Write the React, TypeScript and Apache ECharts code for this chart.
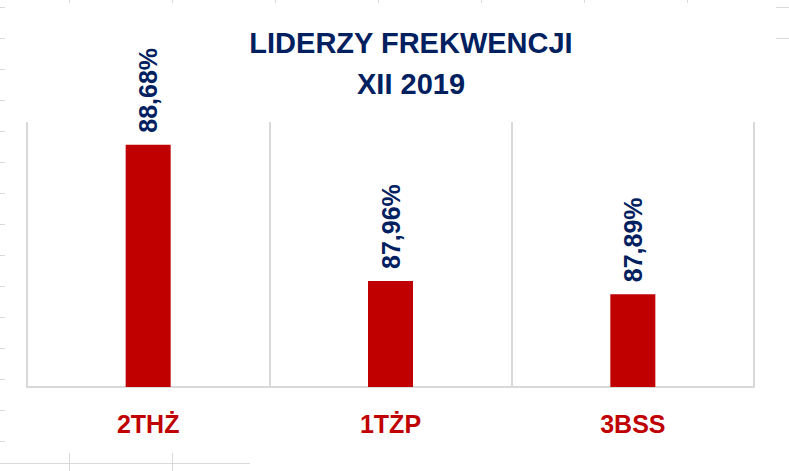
import React, { useEffect, useRef } from "react";
import * as echarts from "echarts";

const categories = ["2THŻ", "1TŻP", "3BSS"];
const values = [88.68, 87.96, 87.89];
const titleLines = ["LIDERZY FREKWENCJI", "XII 2019"];

const NAVY = "#002060";
const RED = "#C00000";
const GRID = "#d9d9d9";
const FONT = "'Liberation Sans', Arial, sans-serif";

function sheetLines(): any[] {
  const els: any[] = [];
  const ls = { stroke: GRID, lineWidth: 1 };
  for (let k = 0; k < 15; k++) {
    const y = 7.5 + 31 * k;
    els.push({ type: "line", shape: { x1: 0, y1: y, x2: 5, y2: y }, style: ls, silent: true });
  }
  for (let k = 0; k < 7; k++) {
    const x = 69.5 + 103 * k;
    els.push({ type: "line", shape: { x1: x, y1: 0, x2: x, y2: 3 }, style: ls, silent: true });
  }
  [7.5, 38.5].forEach((y) =>
    els.push({ type: "line", shape: { x1: 776, y1: y, x2: 789, y2: y }, style: ls, silent: true })
  );
  els.push({ type: "line", shape: { x1: 0, y1: 463.5, x2: 250, y2: 463.5 }, style: ls, silent: true });
  [69.5, 172.5].forEach((x) =>
    els.push({ type: "line", shape: { x1: x, y1: 453, x2: x, y2: 471 }, style: ls, silent: true })
  );
  return els;
}

export default function App() {
  const ref = useRef<HTMLDivElement>(null);
  useEffect(() => {
    if (!ref.current) return;
    const chart = echarts.init(ref.current, undefined, { renderer: "svg" });
    chart.setOption({
      animation: false,
      backgroundColor: "#ffffff",
      grid: { left: 27, right: 35, top: 122, bottom: 84, containLabel: false },
      xAxis: {
        type: "category",
        data: categories,
        boundaryGap: true,
        axisLine: { show: true, lineStyle: { color: GRID, width: 2 } },
        axisTick: { show: false },
        splitLine: { show: true, lineStyle: { color: GRID, width: 2 } },
        axisLabel: {
          color: RED,
          fontFamily: FONT,
          fontWeight: "bold",
          fontSize: 25,
          margin: 24,
        },
      },
      yAxis: {
        type: "value",
        min: 87.4,
        max: 88.8,
        show: false,
        splitLine: { show: false },
      },
      series: [
        {
          type: "bar",
          data: values,
          barWidth: 45,
          itemStyle: { color: RED },
          label: {
            show: true,
            position: "top",
            rotate: 90,
            align: "left",
            verticalAlign: "middle",
            distance: 12,
            color: NAVY,
            fontFamily: FONT,
            fontWeight: "bold",
            fontSize: 25,
            formatter: (p: any) => p.value.toFixed(2).replace(".", ",") + "%",
          },
        },
      ],
      graphic: [
        ...sheetLines(),
        {
          type: "text",
          x: 411,
          y: 43,
          style: {
            text: titleLines[0],
            fill: NAVY,
            font: `bold 29px ${FONT}`,
            textAlign: "center",
            textVerticalAlign: "middle",
          },
        },
        {
          type: "text",
          x: 411,
          y: 84,
          style: {
            text: titleLines[1],
            fill: NAVY,
            font: `bold 29px ${FONT}`,
            textAlign: "center",
            textVerticalAlign: "middle",
          },
        },
      ],
    });
    return () => chart.dispose();
  }, []);
  return (
    <div
      ref={ref}
      style={{ position: "fixed", left: 0, top: 0, width: 789, height: 471 }}
    />
  );
}
